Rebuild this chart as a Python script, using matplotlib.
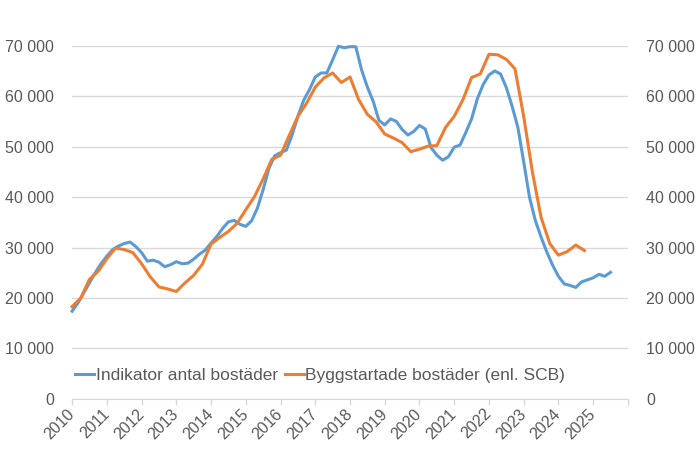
import numpy as np
import matplotlib.pyplot as plt

# Indikator antal bostäder, values every second month from Jan 2010
indikator = [17400, 19000, 21000, 23000, 25000, 26800, 28300, 29600, 30300, 30800,
             31100, 30200, 29000, 27300, 27500, 27100, 26200, 26600, 27200, 26800,
             26900, 27700, 28700, 29500, 30900, 32200, 33800, 35100, 35400, 34600,
             34200, 35300, 37800, 41500, 45700, 48200, 48800, 49300, 52300, 56000,
             59200, 61300, 63800, 64600, 64600, 67200, 69900, 69600, 69800, 69800,
             65200, 61800, 59000, 55200, 54300, 55500, 55000, 53400, 52300, 53000,
             54200, 53500, 49800, 48300, 47300, 48000, 49900, 50300, 52800, 55500,
             59500, 62300, 64200, 65000, 64400, 61700, 58000, 53800, 47000, 40000,
             35400, 32100, 29100, 26500, 24300, 22800, 22500, 22100, 23200, 23600,
             24000, 24700, 24300, 25100]
indikator_x = 2010 + np.arange(len(indikator)) / 6

# Byggstartade bostäder (enl. SCB), quarterly from 2010
byggstart = [18300, 20000, 23700, 25300, 27800, 29900, 29600, 29000, 26800, 24200,
             22200, 21800, 21300, 23000, 24500, 26700, 30700, 32000, 33200, 34800,
             37500, 40100, 43600, 47500, 48300, 52200, 56000, 58600, 61800, 63600,
             64600, 62700, 63800, 59300, 56400, 54900, 52500, 51700, 50800, 49000,
             49500, 50100, 50200, 53800, 56000, 59300, 63700, 64400, 68300, 68200,
             67300, 65400, 56000, 45000, 36000, 30800, 28500, 29200, 30500, 29400]
byggstart_x = 2010 + np.arange(len(byggstart)) / 4

years = list(range(2010, 2027))
year_labels = [str(y) for y in range(2010, 2026)] + ['']
yticks = list(range(0, 70001, 10000))
ytick_labels = ['0' if v == 0 else f'{v // 1000} 000' for v in yticks]

plt.rcParams['font.family'] = ['Liberation Sans', 'DejaVu Sans']
txt = '#595959'
grid = '#D9D9D9'
fs = 11.5

fig = plt.figure(figsize=(7, 4.57), dpi=100)
ax = fig.add_axes([0.103, 0.127, 0.794, 0.773])

ax.plot(indikator_x, indikator, color='#5B9BD5', lw=2.2, solid_joinstyle='round',
        label='Indikator antal bostäder', clip_on=False, zorder=3)
ax.plot(byggstart_x, byggstart, color='#ED7D31', lw=2.2, solid_joinstyle='round',
        label='Byggstartade bostäder (enl. SCB)', clip_on=False, zorder=3)

ax.set_xlim(2010, 2026)
ax.set_ylim(0, 70000)
ax.set_yticks(yticks)
ax.set_yticklabels(ytick_labels)
ax.set_xticks(years)
ax.set_xticklabels(year_labels, rotation=45, ha='right', va='center',
                   rotation_mode='anchor')
ax.grid(axis='y', color=grid, lw=1)
ax.set_axisbelow(True)
for s in ['top', 'right', 'left']:
    ax.spines[s].set_visible(False)
ax.spines['bottom'].set_color(grid)
ax.tick_params(axis='x', colors=grid, length=4, width=1, pad=5, labelcolor=txt,
               labelsize=fs)
ax.tick_params(axis='y', length=0, pad=13, labelcolor=txt, labelsize=fs)

ax2 = ax.twinx()
ax2.set_ylim(0, 70000)
ax2.set_yticks(yticks)
ax2.set_yticklabels(ytick_labels)
for s in ax2.spines.values():
    s.set_visible(False)
ax2.tick_params(axis='y', length=0, pad=13, labelcolor=txt, labelsize=fs)

leg = ax.legend(loc='center', bbox_to_anchor=(0.446, 0.066), ncol=2, frameon=False,
                fontsize=12.5, handlelength=1.1, handletextpad=0.1,
                columnspacing=0.4, borderaxespad=0)
for t in leg.get_texts():
    t.set_color(txt)

fig.savefig('out.png', dpi=100)
